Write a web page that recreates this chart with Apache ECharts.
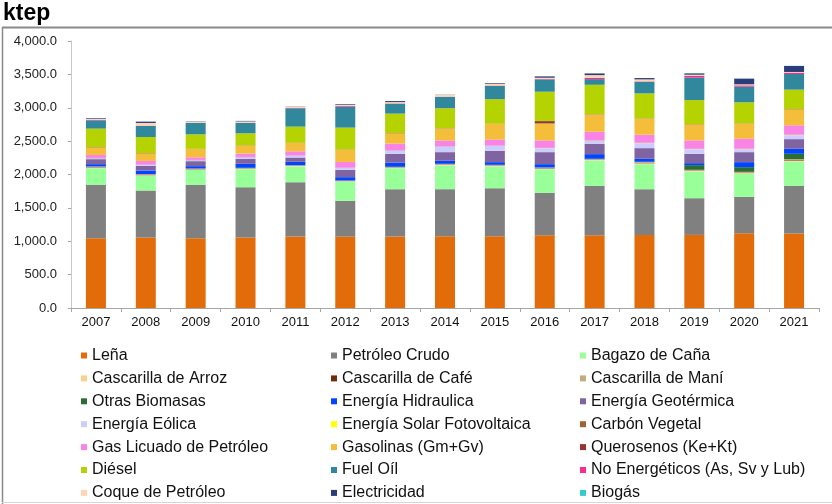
<!DOCTYPE html>
<html>
<head>
<meta charset="utf-8">
<script src="https://cdn.jsdelivr.net/npm/echarts@6/dist/echarts.min.js"></script>
<style>
html,body{margin:0;padding:0;background:#fff;}
#chart{width:832px;height:504px;}
</style>
</head>
<body>
<div id="chart"></div>
<script>
var years = ['2007','2008','2009','2010','2011','2012','2013','2014','2015','2016','2017','2018','2019','2020','2021'];
var yTicks = [0,500,1000,1500,2000,2500,3000,3500,4000];

var lena        = [1045,1055,1045,1055,1070,1070,1070,1075,1075,1090,1090,1095,1095,1120,1115];
var petroleo    = [800,705,800,755,815,535,710,705,720,635,740,685,550,545,715];
var bagazo      = [250,220,225,270,235,290,315,355,325,355,380,375,400,345,365];
var arroz       = [10,10,8,8,8,6,8,10,10,10,10,14,10,12,14];
var cafe        = [6,6,5,5,5,4,5,6,6,6,6,8,6,7,8];
var mani        = [9,9,7,7,7,5,7,9,9,9,9,13,9,11,13];
var otrasBio    = [0,0,0,0,0,0,0,0,0,0,0,0,70,70,80];
var hidraulica  = [35,55,35,60,50,50,65,45,40,50,70,45,30,75,75];
var geotermica  = [75,70,75,75,65,110,130,130,170,180,155,160,140,150,145];
var eolica      = [15,15,15,25,30,30,50,85,75,60,45,75,70,45,60];
var solar       = [0,0,0,0,0,0,0,1,1,2,2,3,3,4,4];
var carbon      = [3,3,3,3,3,3,3,3,3,3,3,3,3,3,3];
var glp         = [45,55,40,50,60,85,100,85,90,110,130,120,125,150,140];
var gasolinas   = [115,115,125,120,125,185,155,180,235,255,260,240,240,225,240];
var querosenos  = [4,4,4,4,4,4,4,4,4,35,4,4,4,4,4];
var diesel      = [275,240,215,180,240,325,290,300,365,440,440,375,360,315,290];
var fuelOil     = [125,165,170,155,275,315,150,170,200,185,85,175,340,235,235];
var noEnerg     = [5,5,3,3,5,10,3,3,5,5,20,5,25,20,20];
var coque       = [15,40,15,20,20,15,20,25,25,20,40,30,15,15,10];
var electricidad= [10,20,5,8,3,10,15,3,10,20,25,20,20,85,90];
var biogas      = [0,0,0,0,0,0,0,0,0,0,0,1,2,2,2];

var seriesDefs = [
  ['Leña', lena, '#E36C0A'],
  ['Petróleo Crudo', petroleo, '#808080'],
  ['Bagazo de Caña', bagazo, '#99FF99'],
  ['Cascarilla de Arroz', arroz, '#FCD08A'],
  ['Cascarilla de Café', cafe, '#6E2C0A'],
  ['Cascarilla de Maní', mani, '#C4AC7E'],
  ['Otras Biomasas', otrasBio, '#2A6E34'],
  ['Energía Hidraulica', hidraulica, '#0046FF'],
  ['Energía Geotérmica', geotermica, '#8064A2'],
  ['Energía Eólica', eolica, '#CCCCFF'],
  ['Energía Solar Fotovoltaica', solar, '#FFFF00'],
  ['Carbón Vegetal', carbon, '#9C6532'],
  ['Gas Licuado de Petróleo', glp, '#FA84E6'],
  ['Gasolinas (Gm+Gv)', gasolinas, '#F4BE3A'],
  ['Querosenos (Ke+Kt)', querosenos, '#963634'],
  ['Diésel', diesel, '#B5D300'],
  ['Fuel Oíl', fuelOil, '#31889C'],
  ['No Energéticos (As, Sv y Lub)', noEnerg, '#FF2A8E'],
  ['Coque de Petróleo', coque, '#FCD5B5'],
  ['Electricidad', electricidad, '#2B3D78'],
  ['Biogás', biogas, '#33CCCC']
];

var series = seriesDefs.map(function (d) {
  return {
    name: d[0], type: 'bar', stack: 'total', data: d[1],
    barWidth: 20, itemStyle: { color: d[2] },
    emphasis: { disabled: true }
  };
});

var names = seriesDefs.map(function (d) { return d[0]; });
var col1 = [], col2 = [], col3 = [];
names.forEach(function (n, i) { [col1, col2, col3][i % 3].push(n); });

function legendAt(left, data) {
  return {
    orient: 'vertical', left: left, top: 346.5, padding: 0,
    itemWidth: 6, itemHeight: 6, itemGap: 4.9, icon: 'rect',
    textStyle: { fontFamily: 'Liberation Sans, Arial, sans-serif', fontSize: 16, color: '#111', lineHeight: 18 },
    data: data
  };
}

var chart = echarts.init(document.getElementById('chart'), null, { renderer: 'canvas' });
chart.setOption({
  animation: false,
  backgroundColor: '#ffffff',
  textStyle: { fontFamily: 'Liberation Sans, Arial, sans-serif' },
  grid: { left: 71, right: 13, top: 41, bottom: 196, containLabel: false },
  legend: [legendAt(81, col1), legendAt(331, col2), legendAt(580, col3)],
  xAxis: {
    type: 'category', data: years,
    axisLine: { lineStyle: { color: '#a6a6a6', width: 1 } },
    axisTick: { show: true, length: 4, lineStyle: { color: '#a6a6a6' } },
    axisLabel: { color: '#111', fontSize: 13, margin: 8 }
  },
  yAxis: {
    type: 'value', min: yTicks[0], max: yTicks[yTicks.length - 1], interval: 500,
    splitLine: { show: false },
    axisLine: { show: true, lineStyle: { color: '#c8c8c8', width: 1 } },
    axisTick: { show: true, length: 3, lineStyle: { color: '#a6a6a6' } },
    axisLabel: {
      color: '#222', fontSize: 13, margin: 14,
      formatter: function (v) { return v.toLocaleString('en-US', { minimumFractionDigits: 1, maximumFractionDigits: 1 }); }
    }
  },
  graphic: [
    { type: 'line', shape: { x1: 2, y1: 27.5, x2: 832, y2: 27.5 }, style: { stroke: '#8a8a8a', lineWidth: 2 }, silent: true },
    { type: 'line', shape: { x1: 2.5, y1: 27, x2: 2.5, y2: 504 }, style: { stroke: '#8a8a8a', lineWidth: 1.5 }, silent: true },
    { type: 'line', shape: { x1: 2, y1: 502.5, x2: 832, y2: 502.5 }, style: { stroke: '#d6d6d6', lineWidth: 1 }, silent: true },
    { type: 'text', left: 3, top: 2, style: { text: 'ktep', font: 'bold 23px "Liberation Sans", Arial, sans-serif', fill: '#000' }, silent: true }
  ],
  series: series
});
</script>
</body>
</html>
